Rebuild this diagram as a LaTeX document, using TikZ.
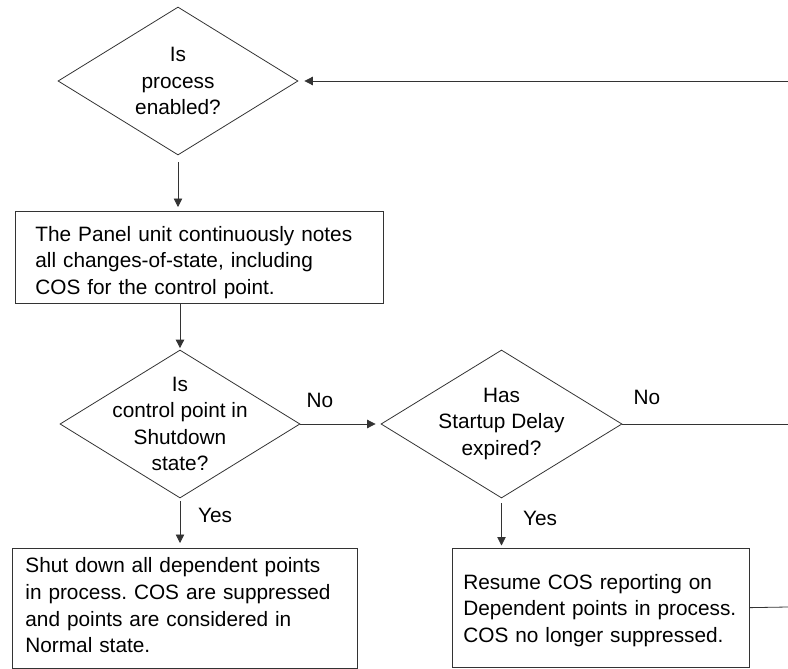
\documentclass[tikz,border=0pt]{standalone}
\usepackage{fontspec}
\setmainfont{Liberation Sans}
\usetikzlibrary{arrows.meta,shapes.geometric,positioning}
\frenchspacing

\tikzset{
 decision/.style={diamond,draw=black!80,line width=.8pt,inner sep=0pt,minimum width=240pt,minimum height=148pt},
 dtext/.style={align=center,inner sep=0pt},
 stepbox/.style={draw=black!80,line width=.8pt,align=left,anchor=north west,inner ysep=2pt},
 flow/.style={draw=black!80,line width=.8pt,-{Triangle[length=8.5pt,width=8.5pt]}},
 link/.style={draw=black!80,line width=.8pt}
}

\begin{document}
\begin{tikzpicture}[x=1pt,y=-1pt,font=\fontsize{20.8}{26.6}\selectfont]
\useasboundingbox (0,0) rectangle (788,669);
% decisions
\node[decision] (enabled) at (178,81) {};
\node[dtext] (enabled-txt) at (enabled.center) {Is\\process\\enabled?};
\node[decision] (isdown) at (180,424) {};
\node[dtext] (isdown-txt) at (isdown.center) {Is\\control point in\\Shutdown\\state?};
\node[decision,minimum width=241pt] (delay) at (501.5,424) {};
\node[dtext] (delay-txt) at (delay.center) {Has\\Startup Delay\\expired?};
% boxes
\node[stepbox,inner xsep=20pt,text width=328pt,text height=25pt,minimum height=92pt] (notes) at (15,211)
 {The Panel unit continuously notes\\all changes-of-state, including\\COS for the control point.};
\node[stepbox,inner xsep=13pt,text width=319pt,text height=9pt,minimum height=120pt] (shutdown) at (12,548)
 {Shut down all dependent points\\in process. COS are suppressed\\and points are considered in\\Normal state.};
\node[stepbox,inner xsep=11pt,text width=275pt,text height=21pt,minimum height=118.5pt] (resume) at (452,548)
 {Resume COS reporting on\\Dependent points in process.\\COS no longer suppressed.};
% loop ends at the right edge
\coordinate (loop-top) at (788,81);
\coordinate (loop-mid) at (788,424);
\coordinate (loop-low) at (788,607);
% connectors
\draw[flow,shorten >=6pt] (loop-top) -- (enabled.east);
\draw[flow,shorten <=7pt,shorten >=4pt] (enabled.south) -- (enabled.south |- notes.north);
\draw[flow,shorten >=1.5pt] (notes.south -| isdown.north) -- (isdown.north);
\draw[flow,shorten <=3pt,shorten >=5pt] (isdown.south) -- (isdown.south |- shutdown.north);
\draw[flow,shorten >=5pt] (isdown.east) -- (delay.west);
\draw[flow,shorten <=5pt,shorten >=2.5pt] (delay.south) -- (delay.south |- resume.north);
\draw[link] (delay.east) -- (loop-mid);
\draw[link] (resume.east) -- (loop-low);
% answers
\node (no-down) at (320,400) {No};
\node (yes-down) at (215,515) {Yes};
\node (no-delay) at (647,397) {No};
\node (yes-delay) at (540,518) {Yes};
\end{tikzpicture}
\end{document}
